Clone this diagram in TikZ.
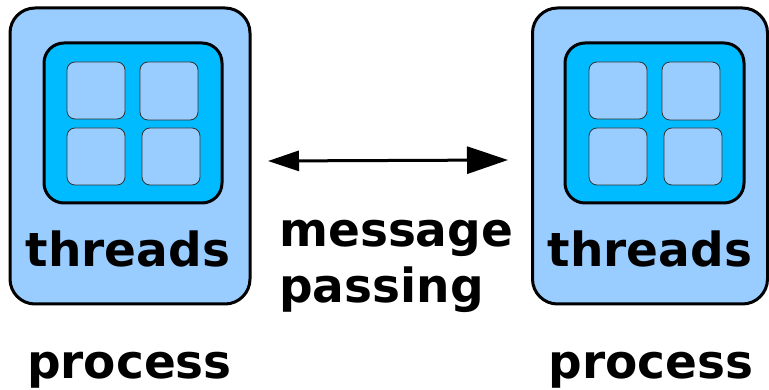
\documentclass[tikz,border=0pt]{standalone}
\usepackage{fontspec}
\setmainfont{DejaVu Sans}
\usetikzlibrary{arrows.meta}
\definecolor{procblue}{RGB}{153,204,255}
\definecolor{coreblue}{RGB}{0,187,255}
\tikzset{
  procbox/.style={draw=black, line width=3pt, fill=procblue, rounded corners=25pt, inner sep=0pt},
  corebox/.style={draw=black, line width=3pt, fill=coreblue, rounded corners=20pt, inner sep=0pt},
  thrbox/.style={draw=black!80, line width=0.8pt, fill=procblue, rounded corners=8pt, inner sep=0pt},
  bigtxt/.style={font=\fontsize{47pt}{52pt}\selectfont\bfseries, inner sep=0pt, anchor=base},
}
\begin{document}
\begin{tikzpicture}[x=1pt,y=-1pt]
\useasboundingbox (0,0) rectangle (769,390);
% left process
\node[procbox, minimum width=240pt, minimum height=296pt] (P1) at (130,156) {};
\node[corebox, minimum width=178pt, minimum height=160pt] (C1) at (133,123) {};
\node[thrbox, minimum width=58pt, minimum height=57pt] (t11) at (96,90.5) {};
\node[thrbox, minimum width=58pt, minimum height=58pt] (t12) at (169,91) {};
\node[thrbox, minimum width=58pt, minimum height=57pt] (t13) at (96,156.5) {};
\node[thrbox, minimum width=58pt, minimum height=57pt] (t14) at (171,156.5) {};
\node[bigtxt] (th1) at (128,267) {threads};
\node[bigtxt] (pr1) at (129.5,378) {process};
% right process
\node[procbox, minimum width=235pt, minimum height=296pt] (P2) at (650,156) {};
\node[corebox, minimum width=179pt, minimum height=160pt] (C2) at (654.5,123) {};
\node[thrbox, minimum width=58pt, minimum height=57pt] (t21) at (618,90.5) {};
\node[thrbox, minimum width=58pt, minimum height=58pt] (t22) at (691,91) {};
\node[thrbox, minimum width=58pt, minimum height=57pt] (t23) at (618,156.5) {};
\node[thrbox, minimum width=58pt, minimum height=57pt] (t24) at (693,156.5) {};
\node[bigtxt] (th2) at (650,267) {threads};
\node[bigtxt] (pr2) at (651,378) {process};
% message passing
\coordinate (aL) at (268,161);
\coordinate (aR) at (508,160);
\draw[line width=3pt, {Triangle[length=31pt,width=20pt]}-{Triangle[length=41pt,width=27pt]}] (aL) -- (aR);
\node[bigtxt, anchor=base west] (m1) at (279,247) {message};
\node[bigtxt, anchor=base west] (m2) at (279,303) {passing};
\end{tikzpicture}
\end{document}
